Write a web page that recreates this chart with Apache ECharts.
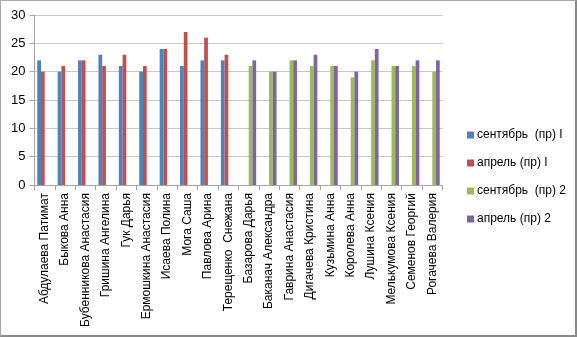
<!DOCTYPE html>
<html>
<head>
<meta charset="utf-8">
<script src="https://cdn.jsdelivr.net/npm/echarts@6/dist/echarts.min.js"></script>
<style>
  html, body { margin: 0; padding: 0; background: #fff; }
  #frame {
    width: 577px; height: 337px; box-sizing: border-box;
    border-top: 1px solid #a8a8a8; border-left: 1px solid #a8a8a8;
    border-right: 2px solid #8a8a8a; border-bottom: 2px solid #8a8a8a;
  }
  #chart { width: 100%; height: 100%; }
</style>
</head>
<body>
<div id="frame"><div id="chart"></div></div>
<script>
// Pupil names (two groups of ten)
const categories = [
  'Абдулаева Патимат', 'Быкова Анна', 'Бубенникова Анастасия', 'Гришина Ангелина',
  'Гук Дарья', 'Ермошкина Анастасия', 'Исаева Полина', 'Мога Саша', 'Павлова Арина',
  'Терещенко  Снежана',
  'Базарова Дарья', 'Баканач Александра', 'Гаврина Анастасия', 'Дигачева Кристина',
  'Кузьмина Анна', 'Королева Анна', 'Лушина Ксения', 'Мелькумова Ксения',
  'Семенов Георгий', 'Рогачева Валерия'
];

const seriesNames = ['сентябрь  (пр) I', 'апрель (пр) I', 'сентябрь  (пр) 2', 'апрель (пр) 2'];

// Group I scores (first ten pupils)
const sept1 = [22, 20, 22, 23, 21, 20, 24, 21, 22, 22, null, null, null, null, null, null, null, null, null, null];
const apr1  = [20, 21, 22, 21, 23, 21, 24, 27, 26, 23, null, null, null, null, null, null, null, null, null, null];
// Group 2 scores (last ten pupils)
const sept2 = [null, null, null, null, null, null, null, null, null, null, 21, 20, 22, 21, 21, 19, 22, 21, 21, 20];
const apr2  = [null, null, null, null, null, null, null, null, null, null, 22, 20, 22, 23, 21, 20, 24, 21, 22, 22];

const yTicks = { min: 0, max: 30, interval: 5 };

const colors = ['#4F81BD', '#C0504D', '#9BBB59', '#8064A2'];
const values = [sept1, apr1, sept2, apr2];

const chart = echarts.init(document.getElementById('chart'), null, { renderer: 'canvas' });
const font = 'Liberation Sans, Arial, sans-serif';

chart.setOption({
  animation: false,
  color: colors,
  textStyle: { fontFamily: font },
  grid: { left: 33.5, right: 132.5, top: 14, bottom: 150, containLabel: false },
  legend: {
    orient: 'vertical',
    left: 461, top: 123,
    itemWidth: 7, itemHeight: 7, itemGap: 16,
    icon: 'rect',
    textStyle: { fontFamily: font, fontSize: 12, color: '#000', padding: [0, 0, 0, -2] },
    data: seriesNames
  },
  xAxis: {
    type: 'category',
    data: categories,
    axisLine: { lineStyle: { color: '#a6a6a6' } },
    axisTick: { show: true, length: 5, lineStyle: { color: '#a6a6a6' } },
    axisLabel: { rotate: 90, interval: 0, fontSize: 12, color: '#000', margin: 8, fontFamily: font }
  },
  yAxis: {
    type: 'value',
    min: yTicks.min, max: yTicks.max, interval: yTicks.interval,
    axisLine: { show: true, lineStyle: { color: '#a6a6a6' } },
    axisTick: { show: true, length: 5, lineStyle: { color: '#a6a6a6' } },
    splitLine: { lineStyle: { color: '#c8c8c8' } },
    axisLabel: { fontSize: 13, color: '#000', margin: 9, fontFamily: font }
  },
  series: seriesNames.map((name, i) => ({
    name: name,
    type: 'bar',
    data: values[i],
    barGap: '0%',
    barCategoryGap: '27%',
    itemStyle: { color: colors[i] }
  }))
});
</script>
</body>
</html>
